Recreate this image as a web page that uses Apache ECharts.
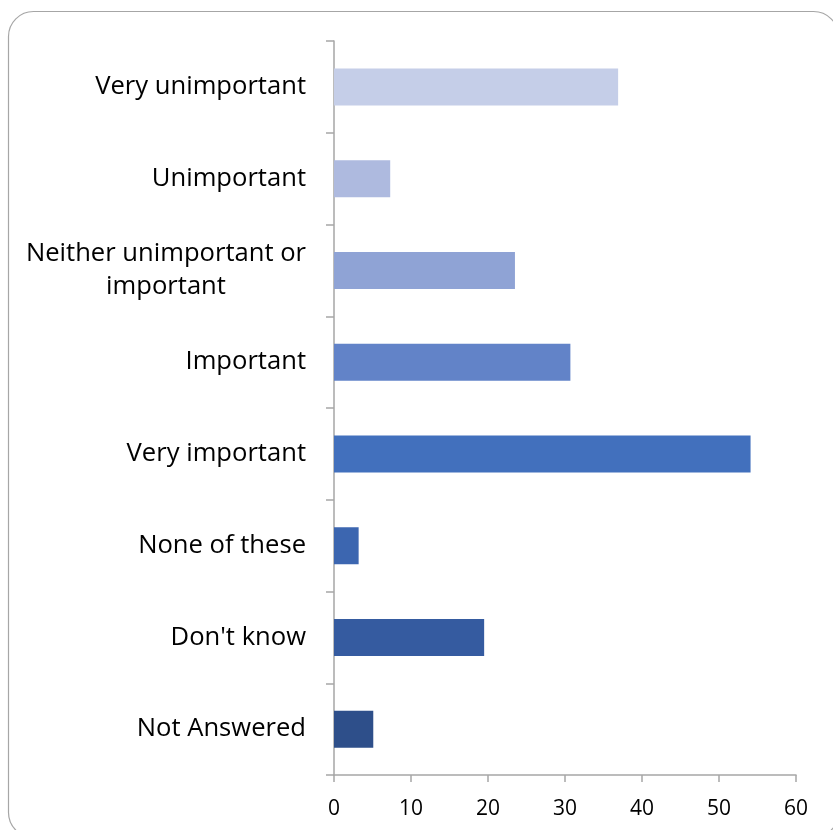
<!DOCTYPE html>
<html>
<head>
<meta charset="utf-8">
<script src="https://cdn.jsdelivr.net/npm/echarts@6/dist/echarts.min.js"></script>
<style>
html,body{margin:0;padding:0;background:#fff;}
#c{width:833px;height:830px;}
</style>
</head>
<body>
<div id="c"></div>
<script>
const categories = [
  "Very unimportant",
  "Unimportant",
  "Neither unimportant or important",
  "Important",
  "Very important",
  "None of these",
  "Don't know",
  "Not Answered"
];
const values = [36.9, 7.3, 23.5, 30.7, 54.1, 3.2, 19.5, 5.1];
const barColors = ["#C5CEE8", "#AEBADF", "#8FA3D5", "#6283C8", "#4270BD", "#3C66B0", "#355BA0", "#2E4F8A"];
const xTicks = [0, 10, 20, 30, 40, 50, 60];

const chart = echarts.init(document.getElementById('c'), null, {renderer: 'canvas'});
const font = '"Open Sans", sans-serif';
chart.setOption({
  animation: false,
  backgroundColor: '#fff',
  graphic: [{
    type: 'rect',
    shape: {x: 8.5, y: 11.5, width: 830, height: 826, r: 25},
    style: {fill: 'none', stroke: '#a6a6a6', lineWidth: 1.2},
    silent: true, z: -1
  }],
  grid: {left: 334, right: 37, top: 41, bottom: 55, containLabel: false},
  xAxis: {
    type: 'value',
    min: xTicks[0], max: xTicks[xTicks.length - 1], interval: 10,
    axisLine: {show: true, lineStyle: {color: '#a6a6a6', width: 1.5}},
    axisTick: {show: true, length: 7, lineStyle: {color: '#a6a6a6', width: 1.5}},
    splitLine: {show: false},
    axisLabel: {color: '#000', fontFamily: font, fontSize: 21, margin: 24}
  },
  yAxis: {
    type: 'category',
    inverse: true,
    data: categories,
    axisLine: {show: true, lineStyle: {color: '#a6a6a6', width: 1.5}},
    axisTick: {show: true, length: 8, lineStyle: {color: '#a6a6a6', width: 1.5}},
    axisLabel: {
      color: '#000', fontFamily: font, fontSize: 25.6, margin: 28, lineHeight: 33,
      formatter: function (v) {
        if (v === "Neither unimportant or important") {
          return '{c|Neither unimportant or}\n{c|important}';
        }
        return v;
      },
      rich: {c: {width: 280, align: 'center', fontFamily: font, fontSize: 25.6, lineHeight: 33, color: '#000'}}
    }
  },
  series: [{
    type: 'bar',
    data: values.map((v, i) => ({value: v, itemStyle: {color: barColors[i]}})),
    barWidth: 37
  }]
});
</script>
</body>
</html>
